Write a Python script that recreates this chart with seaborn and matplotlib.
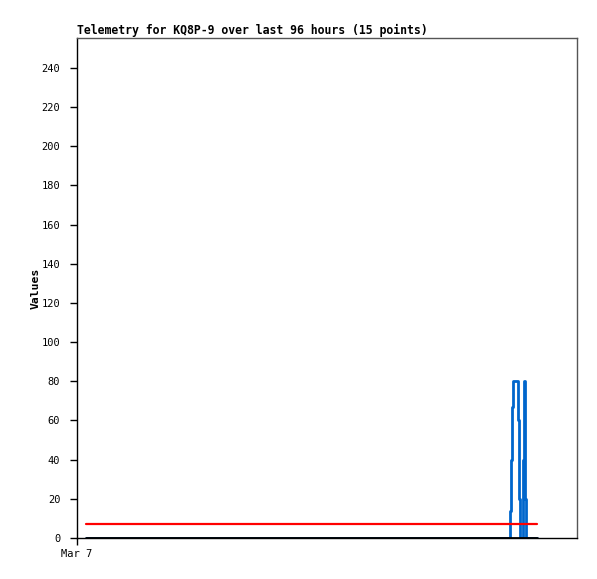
import numpy as np
import pandas as pd
import matplotlib
matplotlib.use('Agg')
from matplotlib import pyplot as plt
import seaborn as sns

# hours since Mar 7 00:00
hours = [1.9, 92.1, 92.3, 92.6, 92.8, 93.8, 94.0, 94.3, 95.0, 95.2, 95.3, 95.4, 95.6, 96.5, 97.9]
blue_vals = [0, 14, 40, 67, 80, 60, 20, 0, 40, 80, 60, 20, 0, 0, 0]
red_vals = [7.1] * 15
black_vals = [0] * 15

title = 'Telemetry for KQ8P-9 over last 96 hours (15 points)'
ylabel = 'Values'
yticks = list(range(0, 241, 20))

df = pd.DataFrame({'hours': hours, 'blue': blue_vals, 'red': red_vals, 'black': black_vals})

sns.set_style('white')
plt.rcParams['font.family'] = ['DejaVu Sans Mono']
plt.rcParams['text.color'] = 'black'
plt.rcParams['axes.labelcolor'] = 'black'
plt.rcParams['xtick.color'] = 'black'
plt.rcParams['ytick.color'] = 'black'

fig = plt.figure(figsize=(5.97, 5.79), dpi=100)
ax = fig.add_axes([77 / 597, 41 / 579, 500 / 597, 500 / 579])

sns.lineplot(data=df, x='hours', y='blue', ax=ax, color='#0066cc', lw=2.0,
             drawstyle='steps-post', estimator=None)
sns.lineplot(data=df, x='hours', y='red', ax=ax, color='#ff0000', lw=1.6, estimator=None)
sns.lineplot(data=df, x='hours', y='black', ax=ax, color='#000000', lw=2.0, estimator=None)

ax.set_xlim(0, 106.4)
ax.set_ylim(0, 255.3)
ax.set_yticks(yticks)
ax.set_yticklabels([str(t) for t in yticks], fontsize=7.5)
ax.set_xticks([0])
ax.set_xticklabels(['Mar 7'], fontsize=7.5)
ax.tick_params(axis='both', left=True, bottom=True, direction='out', length=5,
               width=1, color='black', labelcolor='black')
ax.tick_params(axis='y', pad=7)
ax.tick_params(axis='x', pad=3)
ax.set_xlabel('')
ax.set_ylabel(ylabel, fontsize=8.2, fontweight='bold', labelpad=1, color='black')
ax.set_title(title, loc='left', fontsize=8.3, fontweight='bold', pad=3, color='black')

for side in ['left', 'bottom']:
    ax.spines[side].set_color('black')
    ax.spines[side].set_linewidth(1)
for side in ['top', 'right']:
    ax.spines[side].set_color('#555555')
    ax.spines[side].set_linewidth(1)
ax.grid(False)

plt.savefig('out.png', dpi=100)
